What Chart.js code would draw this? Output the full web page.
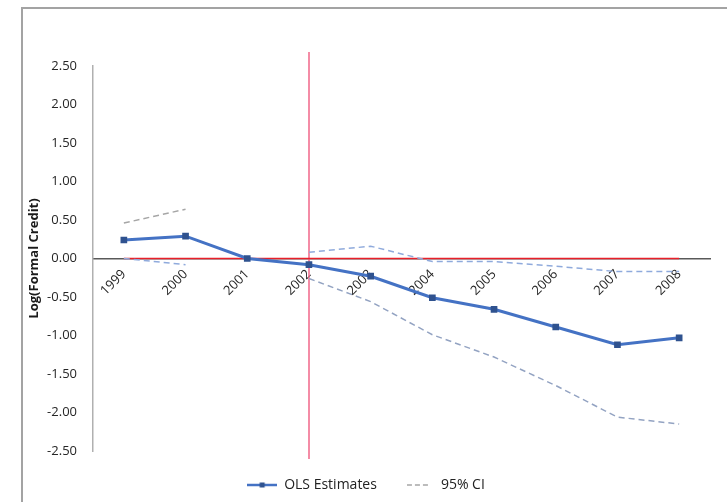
<!DOCTYPE html>
<html>
<head>
<meta charset="utf-8">
<script src="https://cdn.jsdelivr.net/npm/chart.js@4.4.0/dist/chart.umd.min.js"></script>
<style>
html,body{margin:0;padding:0;background:#fff;}
#wrap{position:relative;width:727px;height:502px;overflow:hidden;}
#frame{position:absolute;left:21px;top:7px;width:720px;height:500px;border-left:2px solid #a3a3a3;border-top:2px solid #a3a3a3;}
canvas{position:absolute;left:0;top:0;}
</style>
</head>
<body>
<div id="wrap"><div id="frame"></div><canvas id="chart" width="727" height="502"></canvas></div>
<script>
// values
const years=['1999','2000','2001','2002','2003','2004','2005','2006','2007','2008'];
const olsEstimates=[0.24,0.29,0.00,-0.08,-0.23,-0.51,-0.66,-0.89,-1.12,-1.03];
const ciUpper=[0.46,0.64,null,0.08,0.16,-0.04,-0.04,-0.10,-0.17,-0.17];
const ciLower=[0.00,-0.08,null,-0.26,-0.56,-0.99,-1.28,-1.65,-2.06,-2.15];
const zeroLine=[0,0,0,0,0,0,0,0,0,0];
const breakYear='2002';
const yMin=-2.5, yMax=2.5, yStep=0.5;

const FONT='"Open Sans", "Liberation Sans", sans-serif';
const BLUE='#4472C4', BLUE_DARK='#2F528F', CI_BLUE='#8FAADC', CI_GRAY='#a6a6a6', CI_LOW='#93a3c2', RED='#e8202a';

// legend icons drawn by hand (the point-style legend ignores borderDash)
function olsIcon(){
  const c=document.createElement('canvas'); c.width=30; c.height=8;
  const g=c.getContext('2d');
  g.strokeStyle=BLUE; g.lineWidth=2.5;
  g.beginPath(); g.moveTo(0,4); g.lineTo(30,4); g.stroke();
  g.fillStyle=BLUE_DARK; g.fillRect(12.5,1.5,5,5);
  return c;
}
function ciIcon(){
  const c=document.createElement('canvas'); c.width=24; c.height=6;
  const g=c.getContext('2d');
  g.strokeStyle=CI_GRAY; g.lineWidth=1.5; g.setLineDash([5,3]);
  g.beginPath(); g.moveTo(0,3); g.lineTo(24,3); g.stroke();
  return c;
}

const breakLine={
  id:'breakLine',
  beforeDatasetsDraw(chart){
    const {ctx,chartArea,scales:{x}}=chart;
    const px=Math.round(x.getPixelForValue(years.indexOf(breakYear)));
    ctx.save();
    ctx.strokeStyle='#f06688'; ctx.lineWidth=1.5;
    ctx.beginPath(); ctx.moveTo(px,chartArea.top-14); ctx.lineTo(px,chartArea.bottom+8); ctx.stroke();
    ctx.restore();
  }
};

new Chart(document.getElementById('chart'),{
  type:'line',
  data:{labels:years,datasets:[
    {label:'OLS Estimates',data:olsEstimates,borderColor:BLUE,borderWidth:3,pointStyle:'rect',pointRadius:2.6,
      pointBackgroundColor:BLUE_DARK,pointBorderColor:BLUE_DARK,tension:0,order:0},
    {label:'95% CI',data:ciUpper,borderColor:CI_GRAY,borderWidth:1.5,borderDash:[6,4],pointRadius:0,spanGaps:false,
      segment:{borderColor:c=>c.p0DataIndex<2?CI_GRAY:CI_BLUE},order:1},
    {label:'lower',data:ciLower,borderColor:CI_LOW,borderWidth:1.5,borderDash:[6,4],pointRadius:0,spanGaps:false,
      segment:{borderColor:c=>c.p0DataIndex<2?CI_BLUE:CI_LOW},order:2},
    {label:'zero',data:zeroLine,borderColor:RED,borderWidth:1.5,pointRadius:0,order:3}
  ]},
  options:{
    responsive:false,animation:false,
    layout:{padding:{left:22,right:17,top:66,bottom:0}},
    plugins:{
      tooltip:{enabled:false},
      legend:{position:'bottom',
        labels:{usePointStyle:true,pointStyleWidth:30,padding:27,color:'#222',font:{family:FONT,size:14},
          generateLabels(chart){
            const items=Chart.defaults.plugins.legend.labels.generateLabels(chart);
            items.forEach(it=>{ it.pointStyle = it.datasetIndex===0 ? olsIcon() : ciIcon(); });
            return items;
          },
          filter:it=>it.datasetIndex<2
        }}
    },
    scales:{
      x:{type:'category',offset:true,position:{y:0},
        grid:{display:false,drawTicks:false},
        border:{display:true,color:'#595959',width:1.5},
        ticks:{minRotation:45,maxRotation:45,padding:8,color:'#262626',font:{family:FONT,size:13}}},
      y:{min:yMin,max:yMax,
        grid:{display:false,drawTicks:false},
        border:{display:true,color:'#b0b0b0',width:1.5},
        ticks:{stepSize:yStep,padding:16,color:'#262626',font:{family:FONT,size:13},callback:v=>v.toFixed(2)},
        title:{display:true,text:'Log(Formal Credit)',color:'#1a1a1a',font:{family:FONT,size:13,weight:'bold'},padding:{top:4,bottom:0}},
        afterFit(s){ s.width=71; }}
    }
  },
  plugins:[breakLine]
});
</script>
</body>
</html>
